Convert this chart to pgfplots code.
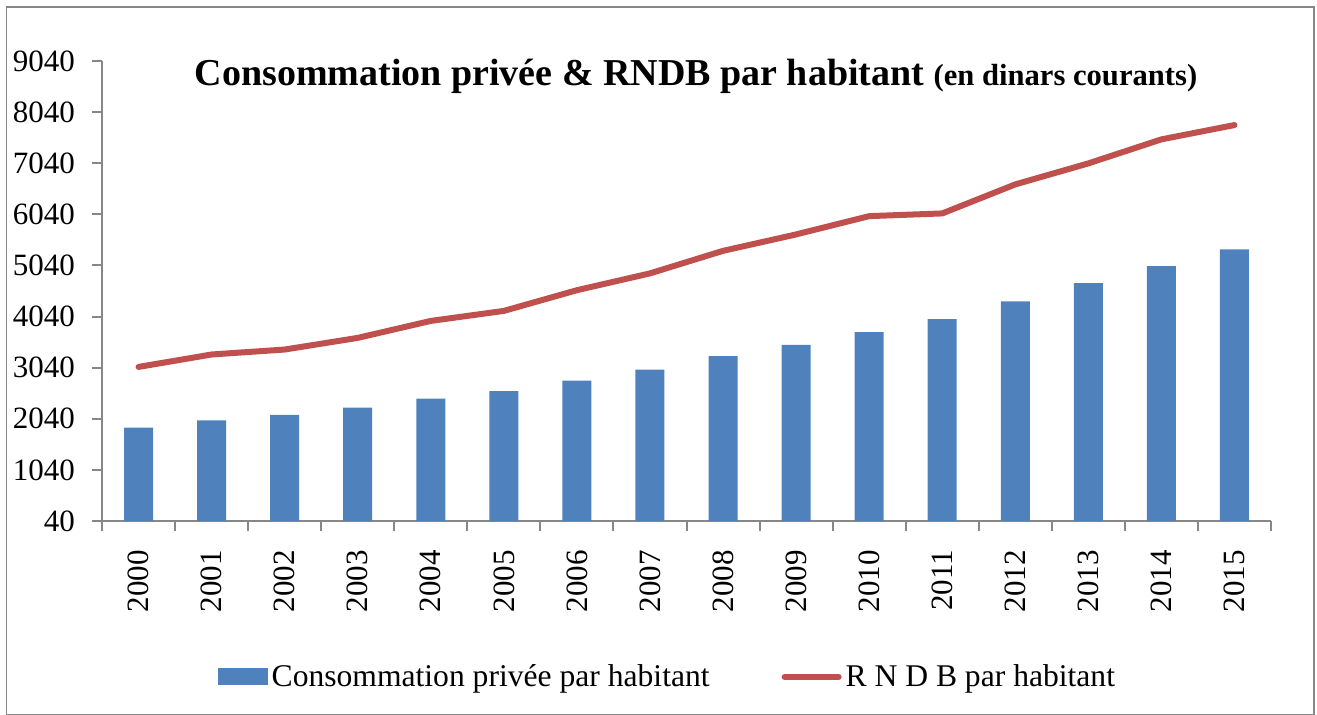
\documentclass[border=0pt]{standalone}
\usepackage{pgfplots}
\pgfplotsset{compat=1.18}
\usepackage{fontspec}
\setmainfont{Liberation Serif}
\definecolor{barblue}{HTML}{4F81BD}
\definecolor{linered}{HTML}{C0504D}
\definecolor{axisgray}{HTML}{878787}
\begin{document}
\begin{tikzpicture}
\useasboundingbox (0,0) rectangle (658.5pt,-357pt);
\draw[axisgray, line width=0.8pt] (3.3pt,-3.6pt) rectangle (657pt,-357.5pt);
\node[anchor=base, inner sep=0pt] at (348pt,-42.5pt) {\fontsize{19}{23}\selectfont\bfseries Consommation privée \& RNDB par habitant {\fontsize{15.3}{17}\selectfont (en dinars courants)}};
\begin{axis}[
  at={(51pt,-260.5pt)}, anchor=south west,
  scale only axis, width=584.5pt, height=230pt,
  xmin=-0.5, xmax=15.5, ymin=40, ymax=9040,
  axis x line*=bottom, axis y line*=left,
  axis line style={draw=axisgray, line width=1pt, -},
  tick align=outside,
  tick style={draw=axisgray, line width=1pt},
  xtick={0,...,15},
  xticklabels={2000,2001,2002,2003,2004,2005,2006,2007,2008,2009,2010,2011,2012,2013,2014,2015},
  major x tick style={draw=none},
  minor xtick={-0.5,0.5,...,15.5},
  minor tick length=5pt,
  major tick length=5pt,
  ytick={40,1040,2040,3040,4040,5040,6040,7040,8040,9040},
  yticklabels={40,1040,2040,3040,4040,5040,6040,7040,8040,9040},
  xticklabel style={rotate=90, anchor=east, font=\fontsize{15.5}{18}\selectfont},
  yticklabel style={anchor=east, font=\fontsize{15.5}{18}\selectfont},
  xticklabel shift=6pt,
  yticklabel shift=5pt,
  clip=false,
  legend columns=2,
  legend style={at={(0.4845,-0.339)}, anchor=center, draw=none, fill=none,
    font=\fontsize{15.8}{18}\selectfont,
    /tikz/every even column/.append style={column sep=34pt}},
]
\addplot[ybar, bar width=14.5pt, fill=barblue, draw=none,
  legend image code/.code={\fill[barblue] (0pt,-4.25pt) rectangle (25pt,4.25pt);}]
  coordinates {(0,1869) (1,2011) (2,2115) (3,2260) (4,2436) (5,2579) (6,2789) (7,3004)
   (8,3264) (9,3486) (10,3734) (11,3989) (12,4335) (13,4694) (14,5026) (15,5353)};
\addlegendentry{Consommation privée par habitant}
\addplot[sharp plot, color=linered, line width=3pt, line cap=round, line join=round,
  legend image code/.code={\draw[linered, line width=3pt] (0pt,0pt) -- (27pt,0pt);}]
  coordinates {(0,3055) (1,3298) (2,3395) (3,3623) (4,3955) (5,4151) (6,4556) (7,4885)
   (8,5326) (9,5647) (10,6005) (11,6058) (12,6626) (13,7037) (14,7507) (15,7787)};
\addlegendentry{R N D B par habitant}
\end{axis}
\end{tikzpicture}
\end{document}
